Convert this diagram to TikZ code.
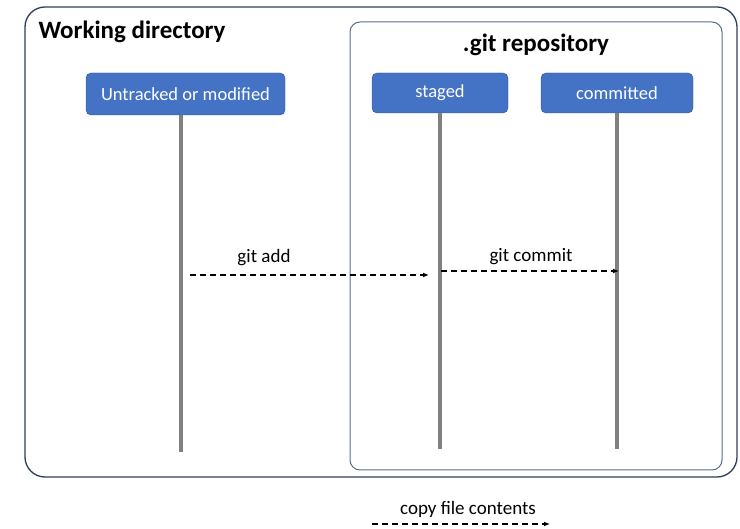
\documentclass[tikz,border=0pt]{standalone}
\usepackage{fontspec}
\setmainfont{Carlito}
\usetikzlibrary{arrows.meta}
\definecolor{boxblue}{HTML}{4472C4}
\definecolor{boxedge}{HTML}{2F528F}
\definecolor{frameedge}{HTML}{2E3E5C}
\definecolor{repoedge}{HTML}{5A6B88}
\definecolor{lifegray}{HTML}{808080}

\begin{document}
\begin{tikzpicture}[x=1pt,y=-1pt,
	state/.style={draw=boxedge,fill=boxblue,rounded corners=5pt,text=white,inner sep=0pt,
		font=\fontsize{18.5}{20}\selectfont},
	title/.style={font=\fontsize{25}{28}\selectfont\bfseries},
	life/.style={lifegray,line width=4pt},
	copyarrow/.style={dashed,dash pattern=on 6pt off 4pt,line width=1.3pt,
		-{Latex[length=6pt,width=5pt]}},
	label/.style={font=\fontsize{19}{21}\selectfont}]
	\useasboundingbox (0,0) rectangle (740,529);
	% draw frames
	\draw[frameedge,line width=1.3pt,rounded corners=20pt] (25,7) rectangle (737,477);
	\draw[repoedge,line width=1pt,rounded corners=10pt] (350,22) rectangle (722,470);
	\node[title,anchor=west] (wdtitle) at (35,32) {Working directory};
	\node[title] (gittitle) at (536,45) {.git repository};
	% draw states
	\node[state,minimum width=199pt,minimum height=42pt] (untracked) at (185.5,94) {Untracked or modified};
	\node[state,minimum width=136pt,minimum height=40pt] (staged) at (440,93) {staged};
	\node[state,minimum width=152pt,minimum height=40pt] (committed) at (617,93) {committed};
	% draw lifelines
	\coordinate (wdEnd) at (181,452);
	\coordinate (stEnd) at (440,449);
	\coordinate (cmEnd) at (617,449);
	\draw[life] (wdEnd |- untracked.south) -- (wdEnd);
	\draw[life] (staged.south) -- (stEnd);
	\draw[life] (committed.south) -- (cmEnd);
	% draw copy steps
	\coordinate (addStart) at (190,275);
	\coordinate (addEnd) at (429,275);
	\coordinate (commitStart) at (441,271);
	\coordinate (commitEnd) at (619,271);
	\draw[copyarrow] (addStart) -- (addEnd);
	\draw[copyarrow] (commitStart) -- (commitEnd);
	\node[label] (addlabel) at (264,258) {git add};
	\node[label] (commitlabel) at (531,257) {git commit};
	% draw legend
	\coordinate (legStart) at (372,524);
	\coordinate (legEnd) at (550,524);
	\draw[copyarrow] (legStart) -- (legEnd);
	\node[label] (leglabel) at (468,509) {copy file contents};
\end{tikzpicture}
\end{document}
